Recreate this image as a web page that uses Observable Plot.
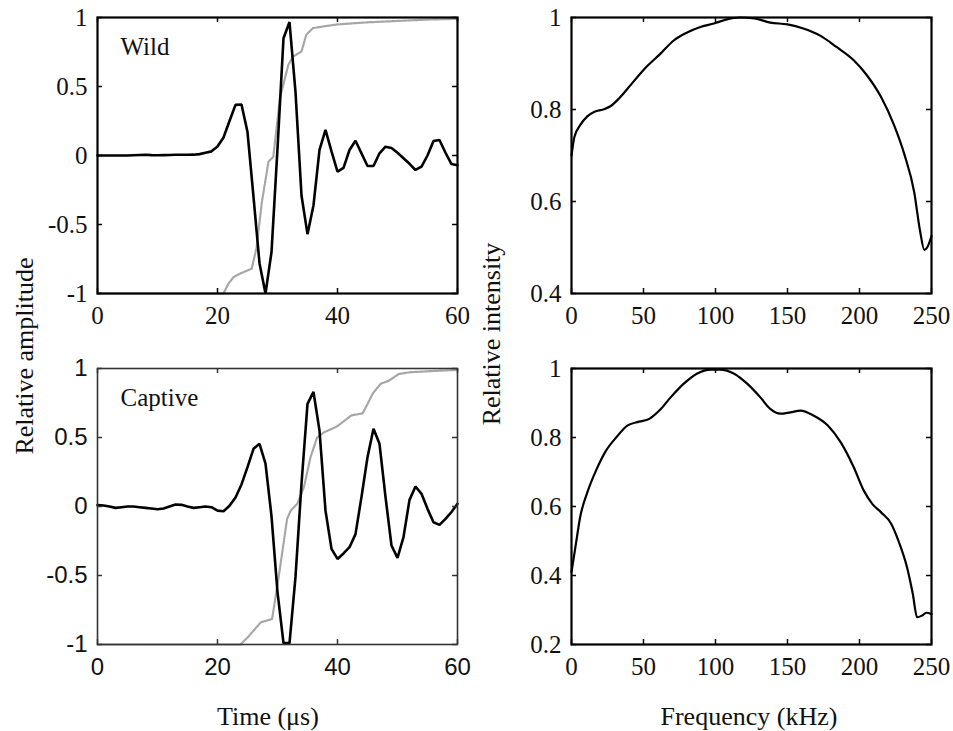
<!DOCTYPE html>
<html><head><meta charset="utf-8">
<script src="https://cdn.jsdelivr.net/npm/d3@7"></script>
<script src="https://cdn.jsdelivr.net/npm/@observablehq/plot@0.6"></script>
<style>
body{margin:0;background:#fff;}
#fig{position:relative;width:953px;height:731px;background:#fff;overflow:hidden;}
.panel{position:absolute;}
.lab{position:absolute;font-family:"Liberation Serif","Times New Roman",serif;font-size:26px;color:#111;white-space:nowrap;line-height:1;}
</style></head><body><div id="fig"></div><script>
// ---------- data ----------
const timeUs = [0,1,2,3,4,5,6,7,8,9,10,11,12,13,14,15,16,17,18,19,20,21,22,23,24,25,26,27,28,29,30,
  31,32,33,34,35,36,37,38,39,40,41,42,43,44,45,46,47,48,49,50,51,52,53,54,55,56,57,58,59,60];
const wildWave = [0,0,0,0,0,0,0.002,0.004,0.005,0.003,0.002,0.003,0.004,0.005,0.005,0.005,0.006,0.01,0.02,0.03,
  0.065,0.13,0.25,0.367,0.37,0.17,-0.3,-0.78,-1.0,-0.7,0.05,0.85,0.967,0.46,-0.29,-0.57,-0.36,0.04,0.185,0.03,
  -0.117,-0.09,0.04,0.107,0.015,-0.076,-0.076,0.016,0.064,0.055,0.02,-0.02,-0.06,-0.105,-0.08,0.0,0.105,0.112,0.02,-0.062,-0.07];
const captiveWave = [0.01,0.007,0.0,-0.01,-0.005,0.0,0.0,-0.005,-0.01,-0.015,-0.02,-0.015,0.0,0.014,0.012,0.0,-0.01,-0.005,0.0,-0.005,
  -0.03,-0.035,0.005,0.065,0.16,0.285,0.418,0.454,0.31,-0.07,-0.62,-0.99,-0.99,-0.51,0.165,0.744,0.83,0.55,-0.03,-0.307,
  -0.38,-0.34,-0.295,-0.2,0.07,0.357,0.563,0.454,0.07,-0.283,-0.372,-0.222,0.048,0.145,0.092,-0.017,-0.114,-0.133,-0.09,-0.04,0.02];

const wildCumT = [0,21.0,21.8,22.7,23.8,25.7,26.5,27.4,28.5,29.3,30.4,31.8,32.6,34.0,34.8,35.9,37.6,40,45,50,55,60];
const wildCumV = [-1,-1,-0.93,-0.88,-0.855,-0.82,-0.67,-0.335,-0.045,-0.01,0.415,0.657,0.717,0.754,0.875,0.923,0.935,0.95,0.965,0.975,0.985,0.99];
const captiveCumT = [0,23.8,25,27.2,29.1,30.2,31.6,32.2,33.3,34.4,35.5,36.6,37.7,39.9,42.3,44.2,45.9,47.2,48.5,50.2,52.1,56,60];
const captiveCumV = [-1,-1,-0.95,-0.84,-0.815,-0.51,-0.09,-0.03,0.02,0.14,0.357,0.5,0.536,0.58,0.66,0.675,0.82,0.89,0.91,0.96,0.973,0.982,0.99];

const wildFreq = [0,2,6,11,16,22,27,33,41,50,62,71,80,90,99,108,117,127,138,150,161,173,184,196,205,215,224,231,238,242,245,247,250];
const wildSpec = [0.70,0.74,0.766,0.785,0.795,0.80,0.807,0.824,0.853,0.886,0.922,0.95,0.967,0.98,0.987,0.996,1.0,0.998,0.989,0.985,0.976,0.96,0.936,0.907,0.875,0.827,0.766,0.704,0.62,0.537,0.495,0.50,0.525];
const captiveFreq = [0,3,6,11,17,24,31,39,47,54,61,69,78,87,97,103,113,122,131,138,145,152,159,168,178,187,196,203,209,215,222,227,233,237,240,243.5,246.5,250];
const captiveSpec = [0.41,0.49,0.569,0.641,0.704,0.762,0.80,0.835,0.846,0.854,0.878,0.917,0.956,0.985,0.997,0.997,0.985,0.956,0.917,0.883,0.869,0.873,0.878,0.864,0.835,0.786,0.714,0.646,0.607,0.583,0.55,0.501,0.424,0.347,0.279,0.284,0.292,0.288];

const timeTicks = [0,20,40,60];
const ampTicks = [-1,-0.5,0,0.5,1];
const freqTicks = [0,50,100,150,200,250];
const wildIntTicks = [0.4,0.6,0.8,1];
const captiveIntTicks = [0.2,0.4,0.6,0.8,1];

const SERIF = "Liberation Serif, Times New Roman, serif";
const SANS = "Liberation Sans, Arial, sans-serif";

// ---------- helpers ----------
const fig = document.getElementById("fig");
function zip(xs, ys) { return xs.map((x, i) => ({x, y: ys[i]})); }

function panel(o) {
  const innerW = o.width - o.ml - o.mr, innerH = o.height - o.mt - o.mb, tk = 5;
  const tickStyle = {stroke: o.frameColor, strokeWidth: 1.5};
  const p = Plot.plot({
    width: o.width, height: o.height,
    marginLeft: o.ml, marginRight: o.mr, marginTop: o.mt, marginBottom: o.mb,
    x: {domain: o.xDomain}, y: {domain: o.yDomain},
    style: {fontFamily: o.font, fontSize: o.fs + "px", color: "#111", background: "transparent", overflow: "visible"},
    marks: [
      ...o.marks,
      Plot.tickX(o.xTicks, {x: d => d, insetTop: innerH - tk, ...tickStyle}),
      Plot.tickX(o.xTicks, {x: d => d, insetBottom: innerH - tk, ...tickStyle}),
      Plot.tickY(o.yTicks, {y: d => d, insetRight: innerW - tk, ...tickStyle}),
      Plot.tickY(o.yTicks, {y: d => d, insetLeft: innerW - tk, ...tickStyle}),
      Plot.frame({stroke: o.frameColor, strokeWidth: o.frameWidth}),
      Plot.axisX(o.xTicks, {tickSize: 0, tickPadding: 13, tickFormat: d => String(d), label: null, fontSize: o.fs, fontFamily: o.font, fill: "#111"}),
      Plot.axisY(o.yTicks, {tickSize: 0, tickPadding: 10, tickFormat: d => String(d), label: null, fontSize: o.fs, fontFamily: o.font, fill: "#111"})
    ]
  });
  p.classList.add("panel");
  p.style.left = o.left + "px";
  p.style.top = o.top + "px";
  fig.appendChild(p);
}

function waveMarks(cumT, cumV, wave, name) {
  return [
    Plot.line(zip(cumT, cumV), {x: "x", y: "y", stroke: "#a6a6a6", strokeWidth: 2.2, strokeDasharray: "1.4,1.1"}),
    Plot.line(zip(timeUs, wave), {x: "x", y: "y", stroke: "#000", strokeWidth: 2.6, strokeLinejoin: "miter"}),
    Plot.text([name], {text: d => d, frameAnchor: "top-left", dx: 23, dy: 20, textAnchor: "start", lineAnchor: "top", fontSize: 25, fontFamily: SERIF, fill: "#111"})
  ];
}
function specMarks(freq, spec) {
  return [Plot.line(zip(freq, spec), {x: "x", y: "y", stroke: "#000", strokeWidth: 2.2, curve: "monotone-x"})];
}

const L = {ml: 97, mr: 13, mt: 17, mb: 47, width: 470, height: 340};
const R = {ml: 91, mr: 22, mt: 17, mb: 47, width: 473, height: 340};

panel({...L, left: 0, top: 0, xDomain: [0, 60], yDomain: [-1, 1], xTicks: timeTicks, yTicks: ampTicks,
  font: SERIF, fs: 25, frameColor: "#000", frameWidth: 2.2, marks: waveMarks(wildCumT, wildCumV, wildWave, "Wild")});
panel({...R, left: 480, top: 0, xDomain: [0, 250], yDomain: [0.4, 1], xTicks: freqTicks, yTicks: wildIntTicks,
  font: SERIF, fs: 25, frameColor: "#000", frameWidth: 2.2, marks: specMarks(wildFreq, wildSpec)});
panel({...L, left: 0, top: 351, xDomain: [0, 60], yDomain: [-1, 1], xTicks: timeTicks, yTicks: ampTicks,
  font: SANS, fs: 24, frameColor: "#333", frameWidth: 1.6, marks: waveMarks(captiveCumT, captiveCumV, captiveWave, "Captive")});
panel({...R, left: 480, top: 351, xDomain: [0, 250], yDomain: [0.2, 1], xTicks: freqTicks, yTicks: captiveIntTicks,
  font: SERIF, fs: 25, frameColor: "#000", frameWidth: 2.2, marks: specMarks(captiveFreq, captiveSpec)});

// ---------- shared axis labels ----------
function label(text, x, y, rotate) {
  const d = document.createElement("div");
  d.className = "lab";
  d.textContent = text;
  fig.appendChild(d);
  const w = d.offsetWidth, h = d.offsetHeight;
  d.style.left = (x - w / 2) + "px";
  d.style.top = (y - h / 2) + "px";
  if (rotate) d.style.transform = "rotate(-90deg)";
}
label("Relative amplitude", 24, 356, true);
label("Relative intensity", 492, 334, true);
label("Time (\u03bcs)", 268, 717, false);
label("Frequency (kHz)", 749, 717, false);
</script></body></html>
